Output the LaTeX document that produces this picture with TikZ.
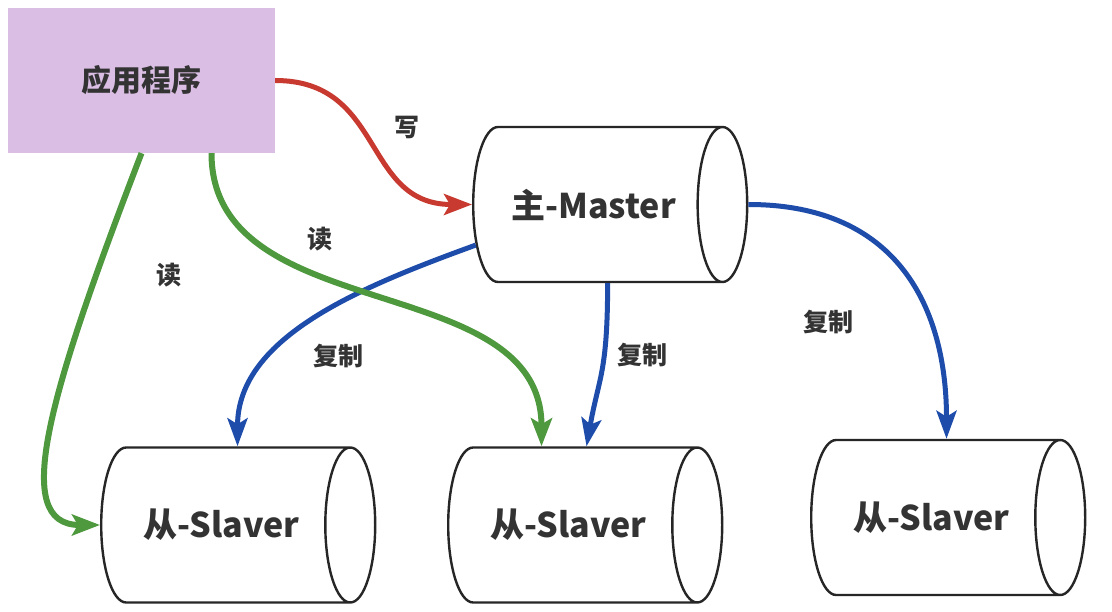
\documentclass[tikz,border=0pt]{standalone}
\usepackage{fontspec}
\setmainfont{Noto Sans CJK SC}
\usetikzlibrary{shapes.geometric,arrows.meta}

\definecolor{appfill}{RGB}{218,190,228}
\definecolor{txtgray}{RGB}{51,51,51}
\definecolor{wred}{RGB}{200,58,48}
\definecolor{rgreen}{RGB}{78,152,62}
\definecolor{cblue}{RGB}{30,76,170}

\begin{document}
\begin{tikzpicture}[x=1pt, y=1pt,
    app/.style={rectangle, fill=appfill, minimum width=267pt, minimum height=145pt,
                font=\fontsize{30}{36}\selectfont\bfseries, text=txtgray},
    db/.style={cylinder, draw=black!85, line width=2.4pt, fill=white,
               minimum width=155pt, minimum height=274pt, shape aspect=1.3,
               inner xsep=1pt, anchor=west,
               font=\fontsize{34}{40}\selectfont\bfseries, text=txtgray},
    lbl/.style={font=\fontsize{25}{30}\selectfont\bfseries, text=txtgray},
    wr/.style={draw=wred, line width=5pt, -{Stealth[length=28pt,width=21pt,inset=6pt]}},
    rd/.style={draw=rgreen, line width=6pt, -{Stealth[length=28pt,width=21pt,inset=6pt]}},
    cp/.style={draw=cblue, line width=5pt, -{Stealth[length=28pt,width=20pt,inset=6pt]}}
]
\fill[white] (0,0) rectangle (1112,-612);
\useasboundingbox (0,0) rectangle (1112,-612);

% Knoten
\node[app] (app) at (141.5,-80.5) {应用程序};
\node[db]  (master) at (472,-204.5) {主-Master};
\node[db]  (s1) at (100,-525) {从-Slaver};
\node[db]  (s2) at (447,-525) {从-Slaver};
\node[db]  (s3) at (810,-517.5) {从-Slaver};

% Replikation
\draw[cp] (master.199) .. controls +(200:120) and +(90:110) .. ([xshift=16pt]s1.north);
\draw[cp] ([xshift=14pt]master.south) .. controls +(-90:90) and +(80:70) .. ([xshift=18pt]s2.north);
\draw[cp] (master.east) .. controls +(0:150) and +(90:130) .. ([xshift=15pt]s3.north);

% Lesen
\draw[rd] (app.south) .. controls +(-111:260) and +(180:90) .. (s1.west);
\draw[rd] ([xshift=70pt]app.south) .. controls +(0,-175) and +(0,178) .. ([xshift=-27pt]s2.north);

% Schreiben
\draw[wr] (app.east) .. controls +(0:110) and +(180:110) .. (master.west);

% Beschriftungen
\node[lbl] (lw)  at (407,-128) {写};
\node[lbl] (lr1) at (169,-275) {读};
\node[lbl] (lr2) at (320,-239) {读};
\node[lbl] (lc1) at (338,-356) {复制};
\node[lbl] (lc2) at (642,-355) {复制};
\node[lbl] (lc3) at (828,-322) {复制};

\end{tikzpicture}
\end{document}
